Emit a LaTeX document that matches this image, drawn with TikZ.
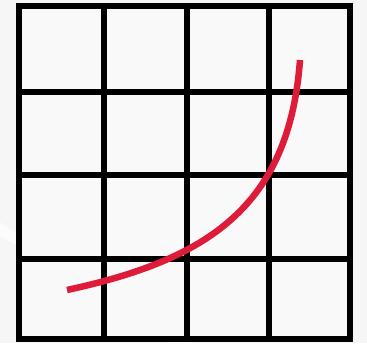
\documentclass[tikz,border=0pt]{standalone}
\begin{document}
\begin{tikzpicture}[x=1pt,y=-1pt,
  gridline/.style={line width=6pt,black},
  curveline/.style={line width=6.5pt,draw={rgb,255:red,222;green,28;blue,58}}]
\useasboundingbox (0,0) rectangle (367,343);
\fill[gray!7] (0,0) rectangle (367,343);
\fill[white,opacity=0.7] (0,222) -- (0,236) -- (190,343) -- (165,343) -- cycle;
\fill[gray!5] (19,6) rectangle (350,339);
% grid
\draw[gridline] (103.5,6) -- (103.5,339);
\draw[gridline] (187,6) -- (187,339);
\draw[gridline] (269,6) -- (269,339);
\draw[gridline] (19,91.5) -- (350,91.5);
\draw[gridline] (19,175) -- (350,175);
\draw[gridline] (19,259) -- (350,259);
\draw[gridline,line join=miter] (19,6) rectangle (350,339);
% curve
\coordinate (s) at (67,290);
\coordinate (e) at (300,60);
\draw[curveline] (s) .. controls (206,260) and (289,208) .. (e);
\end{tikzpicture}
\end{document}
